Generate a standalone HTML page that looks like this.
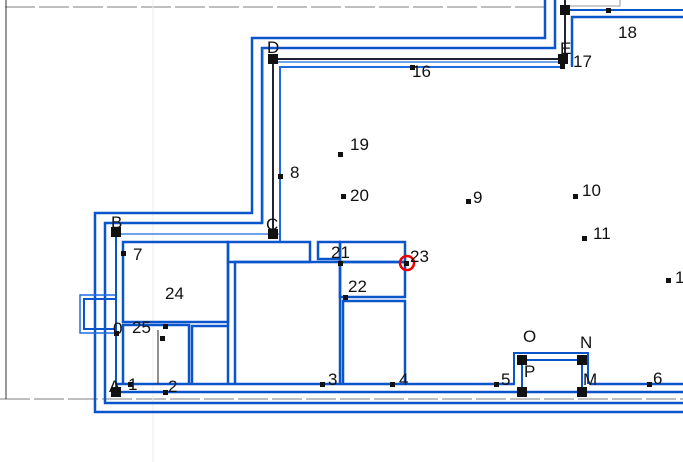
<!DOCTYPE html>
<html><head><meta charset="utf-8"><style>
html,body{margin:0;padding:0;background:#fff;width:683px;height:462px;overflow:hidden}
svg{display:block}
text{font-family:"Liberation Sans",sans-serif;font-size:17px;fill:#111}
</style></head><body>
<svg width="683" height="462" viewBox="0 0 683 462">
<g fill="none">
<!-- gray guide lines -->
<line x1="5" y1="7" x2="548" y2="7" stroke="#999" stroke-width="1.2" stroke-dasharray="30,4"/>
<line x1="0" y1="399" x2="683" y2="399" stroke="#999" stroke-width="1.2" stroke-dasharray="30,4"/>
<line x1="6" y1="0" x2="6" y2="399" stroke="#333" stroke-width="1"/>
<line x1="153" y1="0" x2="153" y2="462" stroke="#eee" stroke-width="1"/>
<!-- outer loops -->
<polyline points="545,0 545,38 252,38 252,213 95,213 95,412 683,412" stroke="#0a55cc" stroke-width="2.5"/>
<polyline points="555,0 555,48 262,48 262,223 105,223 105,403 683,403" stroke="#0a55cc" stroke-width="2.5"/>
<!-- D / E line -->
<polyline points="565,0 565,59 273,59 273,234" stroke="#223" stroke-width="2"/>
<polyline points="273,62 565,62" stroke="#1e6be0" stroke-width="1.2"/>
<polyline points="562,67 280,67 280,241" stroke="#1e6be0" stroke-width="2"/>
<line x1="263" y1="48" x2="263" y2="223" stroke="#1e6be0" stroke-width="1"/>
<polyline points="565,10 683,10" stroke="#0a55cc" stroke-width="2"/>
<polyline points="565,6 620,6 620,0" stroke="#999" stroke-width="1"/>
<polyline points="572,67 572,17 683,17" stroke="#0a55cc" stroke-width="2.5"/>
<!-- B line -->
<line x1="116" y1="234" x2="280" y2="234" stroke="#1e6be0" stroke-width="1.2"/>
<line x1="116" y1="232" x2="116" y2="392" stroke="#0a55cc" stroke-width="2"/>
<line x1="116" y1="392" x2="683" y2="392" stroke="#0a55cc" stroke-width="2.5"/>
<!-- left bump -->
<polyline points="115,295 80,295 80,333 115,333" stroke="#1e6be0" stroke-width="1.5"/>
<polyline points="115,299 84,299 84,329 115,329" stroke="#0a55cc" stroke-width="2"/>
<!-- rooms -->
<g stroke="#0a55cc" stroke-width="2.5">
<rect x="123" y="242" width="105" height="80"/>
<rect x="228" y="242" width="82" height="20"/>
<rect x="318" y="242" width="22" height="17"/>
<rect x="340" y="242" width="65" height="20"/>
<rect x="340" y="262" width="65" height="35"/>
<polyline points="343,385 343,301 405,301 405,385"/>
<polyline points="235,385 235,262 340,262 340,385"/>
<polyline points="123,385 123,325 189,325 189,385"/>
<polyline points="192,385 192,326 228,326 228,385"/>
<line x1="228" y1="262" x2="228" y2="326"/>
<line x1="117" y1="384" x2="515" y2="384"/>
<line x1="590" y1="384" x2="683" y2="384"/>
</g>
<line x1="158" y1="330" x2="158" y2="384" stroke="#222" stroke-width="1"/>
<!-- O/P box -->
<polyline points="514,384 514,353 588,353 588,384" stroke="#0a55cc" stroke-width="2"/>
<rect x="522" y="360" width="60" height="32" stroke="#0a55cc" stroke-width="2"/>
</g>
<!-- red circle -->
<circle cx="407" cy="263" r="7" fill="none" stroke="#e00" stroke-width="2.5"/>
<!-- big nodes -->
<g fill="#111">
<rect x="560" y="5" width="10" height="10"/><rect x="268" y="54" width="10" height="10"/>
<rect x="558" y="54" width="10" height="10"/><rect x="268" y="229" width="10" height="10"/>
<rect x="111" y="227" width="10" height="10"/><rect x="111" y="387" width="10" height="10"/>
<rect x="517" y="355" width="10" height="10"/><rect x="577" y="355" width="10" height="10"/>
<rect x="517" y="387" width="10" height="10"/><rect x="577" y="387" width="10" height="10"/>
<!-- small points -->
<rect x="606" y="8" width="5" height="5"/><rect x="410" y="65" width="5" height="5"/>
<rect x="560" y="64" width="5" height="5"/>
<rect x="338" y="152" width="5" height="5"/><rect x="341" y="194" width="5" height="5"/>
<rect x="466" y="199" width="5" height="5"/><rect x="573" y="194" width="5" height="5"/>
<rect x="582" y="236" width="5" height="5"/><rect x="666" y="278" width="5" height="5"/>
<rect x="278" y="174" width="5" height="5"/><rect x="121" y="251" width="5" height="5"/>
<rect x="338" y="261" width="5" height="5"/><rect x="343" y="295" width="5" height="5"/>
<rect x="114" y="331" width="5" height="5"/><rect x="163" y="324" width="5" height="5"/>
<rect x="160" y="336" width="5" height="5"/>
<rect x="128" y="382" width="5" height="5"/><rect x="163" y="390" width="5" height="5"/>
<rect x="320" y="382" width="5" height="5"/><rect x="390" y="382" width="5" height="5"/>
<rect x="494" y="382" width="5" height="5"/><rect x="647" y="382" width="5" height="5"/>
<rect x="404" y="261" width="5" height="5"/>
</g>
<!-- labels -->
<text x="618" y="38">18</text><text x="573" y="67">17</text><text x="560" y="54">E</text>
<text x="412" y="77">16</text><text x="267" y="53">D</text>
<text x="350" y="150">19</text><text x="350" y="201">20</text><text x="473" y="203">9</text>
<text x="582" y="196">10</text><text x="593" y="239">11</text><text x="675" y="283">1</text>
<text x="290" y="178">8</text><text x="266" y="230">C</text><text x="111" y="228">B</text>
<text x="133" y="260">7</text><text x="165" y="299">24</text>
<text x="331" y="258">21</text><text x="410" y="262">23</text><text x="348" y="292">22</text>
<text x="113" y="334">0</text><text x="132" y="333">25</text>
<text x="109" y="392">A</text><text x="128" y="390">1</text><text x="168" y="392">2</text>
<text x="328" y="385">3</text><text x="399" y="385">4</text><text x="501" y="385">5</text>
<text x="524" y="377">P</text><text x="583" y="385">M</text><text x="653" y="384">6</text>
<text x="523" y="342">O</text><text x="580" y="348">N</text>
</svg>
</body></html>
